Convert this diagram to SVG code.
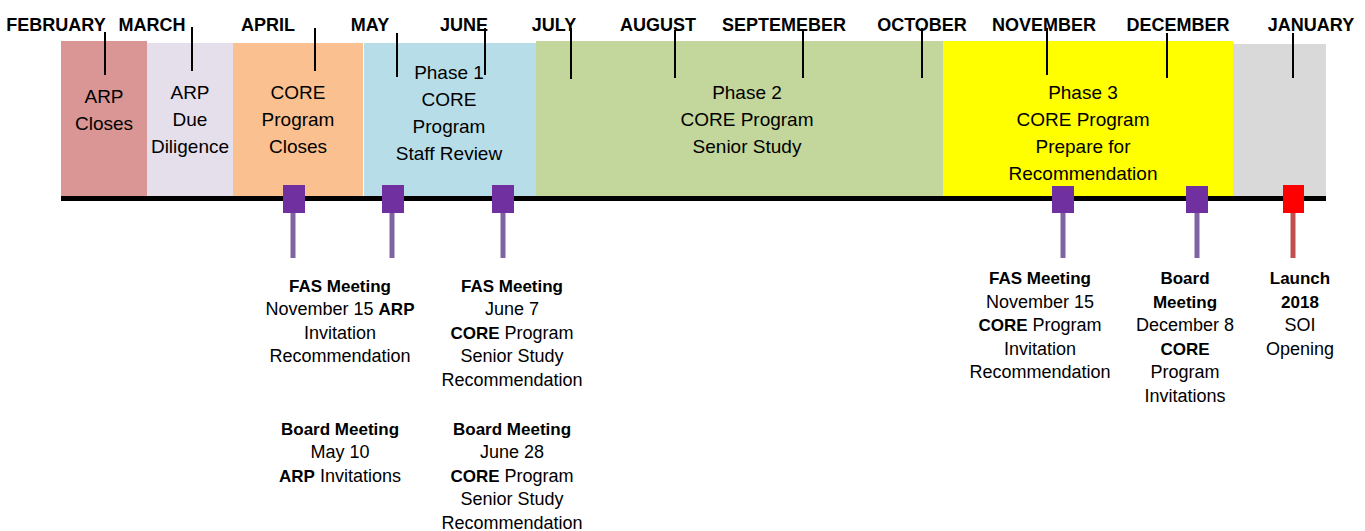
<svg xmlns="http://www.w3.org/2000/svg" width="1365" height="531" viewBox="0 0 1365 531">
<style>
text{font-family:"Liberation Sans",Arial,sans-serif;fill:#000;text-anchor:middle}
.mon{font-size:18px;font-weight:bold}
.blk{font-size:19px}
.lbl{font-size:18px}
.b{font-weight:bold;font-size:17px}
.tick{stroke:#000;stroke-width:2}
.mk{fill:#7030A0}
.stem{stroke:#8064A2;stroke-width:5}
</style>
<rect width="1365" height="531" fill="#fff"/>
<g id="phases">
<g id="arp-closes"><rect x="61" y="41" width="86" height="155" fill="#D99694"/>
<text class="blk" x="104" y="103">ARP</text><text class="blk" x="104" y="130">Closes</text></g>
<g id="arp-due"><rect x="147" y="43" width="86" height="153" fill="#E5DFEC"/>
<text class="blk" x="190" y="99">ARP</text><text class="blk" x="190" y="126">Due</text><text class="blk" x="190" y="153">Diligence</text></g>
<g id="core-closes"><rect x="233" y="43" width="130" height="153" fill="#FAC090"/>
<text class="blk" x="298" y="99">CORE</text><text class="blk" x="298" y="126">Program</text><text class="blk" x="298" y="153">Closes</text></g>
<g id="phase1"><rect x="364" y="43" width="172" height="153" fill="#B7DEE8"/>
<text class="blk" x="449" y="79">Phase 1</text><text class="blk" x="449" y="106">CORE</text><text class="blk" x="449" y="133">Program</text><text class="blk" x="449" y="160">Staff Review</text></g>
<g id="phase2"><rect x="536" y="41" width="407" height="155" fill="#C3D69B"/>
<text class="blk" x="747" y="99">Phase 2</text><text class="blk" x="747" y="126">CORE Program</text><text class="blk" x="747" y="153">Senior Study</text></g>
<g id="phase3"><rect x="943" y="41" width="290" height="155" fill="#FFFF00"/>
<text class="blk" x="1083" y="99">Phase 3</text><text class="blk" x="1083" y="126">CORE Program</text><text class="blk" x="1083" y="153">Prepare for</text><text class="blk" x="1083" y="180">Recommendation</text></g>
<g id="january-block"><rect x="1233" y="44" width="93" height="152" fill="#D9D9D9"/></g>
</g>
<g id="timeline"><rect x="61" y="196" width="1265" height="5" fill="#000"/></g>
<g id="months">
<text class="mon" x="56" y="31">FEBRUARY</text>
<text class="mon" x="152" y="31">MARCH</text>
<text class="mon" x="268" y="31">APRIL</text>
<text class="mon" x="370" y="31">MAY</text>
<text class="mon" x="464" y="31">JUNE</text>
<text class="mon" x="554" y="31">JULY</text>
<text class="mon" x="658" y="31">AUGUST</text>
<text class="mon" x="784" y="31">SEPTEMEBER</text>
<text class="mon" x="922" y="31">OCTOBER</text>
<text class="mon" x="1044" y="31">NOVEMBER</text>
<text class="mon" x="1178" y="31">DECEMBER</text>
<text class="mon" x="1311" y="31">JANUARY</text>
</g>
<g id="connectors">
<line class="tick" x1="105" y1="32" x2="105" y2="75"/>
<line class="tick" x1="192" y1="27" x2="192" y2="71"/>
<line class="tick" x1="315" y1="28" x2="315" y2="71"/>
<line class="tick" x1="397" y1="33" x2="397" y2="77"/>
<line class="tick" x1="485" y1="28" x2="485" y2="75"/>
<line class="tick" x1="571" y1="28" x2="571" y2="79"/>
<line class="tick" x1="675" y1="30" x2="675" y2="78"/>
<line class="tick" x1="803" y1="30" x2="803" y2="78"/>
<line class="tick" x1="922" y1="28" x2="922" y2="78"/>
<line class="tick" x1="1047" y1="28" x2="1047" y2="75"/>
<line class="tick" x1="1167" y1="33" x2="1167" y2="78"/>
<line class="tick" x1="1293" y1="33" x2="1293" y2="78"/>
<line class="stem" x1="293" y1="213" x2="293" y2="258"/>
<line class="stem" x1="392" y1="213" x2="392" y2="258"/>
<line class="stem" x1="503" y1="213" x2="503" y2="258"/>
<line class="stem" x1="1063" y1="213" x2="1063" y2="258"/>
<line class="stem" x1="1197" y1="213" x2="1197" y2="258"/>
<line x1="1293" y1="213" x2="1293" y2="258" stroke="#C0504D" stroke-width="5"/>
</g>
<g id="marker-fas-nov-arp"><rect class="mk" x="283" y="185" width="22" height="28"/></g>
<g id="marker-board-may"><rect class="mk" x="382" y="185" width="22" height="28"/></g>
<g id="marker-june"><rect class="mk" x="492" y="185" width="22" height="28"/></g>
<g id="marker-fas-nov-core"><rect class="mk" x="1052" y="186" width="22" height="27"/></g>
<g id="marker-board-dec"><rect class="mk" x="1186" y="186" width="22" height="27"/></g>
<g id="marker-launch"><rect x="1283" y="185" width="21" height="28" fill="#FF0000"/></g>
<g id="labels">
<g id="label1" class="lbl">
<text x="340" y="292" class="b">FAS Meeting</text>
<text x="340" y="315">November 15 <tspan class="b">ARP</tspan></text>
<text x="340" y="339">Invitation</text>
<text x="340" y="362">Recommendation</text>
<text x="340" y="435" class="b">Board Meeting</text>
<text x="340" y="458">May 10</text>
<text x="340" y="482"><tspan class="b">ARP</tspan> Invitations</text>
</g>
<g id="label2" class="lbl">
<text x="512" y="292" class="b">FAS Meeting</text>
<text x="512" y="315">June 7</text>
<text x="512" y="339"><tspan class="b">CORE</tspan> Program</text>
<text x="512" y="362">Senior Study</text>
<text x="512" y="386">Recommendation</text>
<text x="512" y="435" class="b">Board Meeting</text>
<text x="512" y="458">June 28</text>
<text x="512" y="482"><tspan class="b">CORE</tspan> Program</text>
<text x="512" y="505">Senior Study</text>
<text x="512" y="529">Recommendation</text>
</g>
<g id="label3" class="lbl">
<text x="1040" y="284" class="b">FAS Meeting</text>
<text x="1040" y="308">November 15</text>
<text x="1040" y="331"><tspan class="b">CORE</tspan> Program</text>
<text x="1040" y="355">Invitation</text>
<text x="1040" y="378">Recommendation</text>
</g>
<g id="label4" class="lbl">
<text x="1185" y="284" class="b">Board</text>
<text x="1185" y="308" class="b">Meeting</text>
<text x="1185" y="331">December 8</text>
<text x="1185" y="355" class="b">CORE</text>
<text x="1185" y="378">Program</text>
<text x="1185" y="402">Invitations</text>
</g>
<g id="label5" class="lbl">
<text x="1300" y="284" class="b">Launch</text>
<text x="1300" y="308" class="b">2018</text>
<text x="1300" y="331">SOI</text>
<text x="1300" y="355">Opening</text>
</g>
</g>
</svg>
